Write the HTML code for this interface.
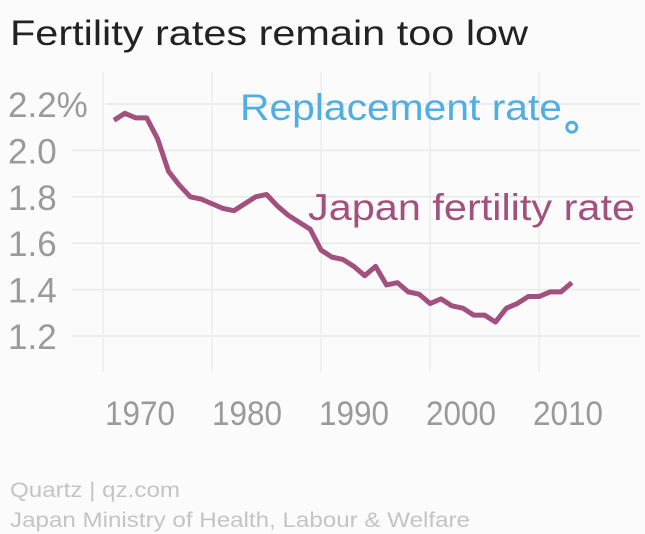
<!DOCTYPE html>
<html><head><meta charset="utf-8"><style>
body{margin:0;background:#fbfbfb;}
svg{display:block;font-family:"Liberation Sans",sans-serif;}
</style></head><body>
<svg id="c" width="645" height="534">
<text x="10" y="45" font-size="35" fill="#222" textLength="518" lengthAdjust="spacingAndGlyphs">Fertility rates remain too low</text>
<g id="grid"></g><g id="ticks"></g><g id="series"></g>
<text x="240" y="120" font-size="37" fill="#51aee0" textLength="322" lengthAdjust="spacingAndGlyphs">Replacement rate</text>
<text x="308" y="220" font-size="37" fill="#a2517f" textLength="327" lengthAdjust="spacingAndGlyphs">Japan fertility rate</text>
<text x="10" y="497" font-size="21" fill="#c4c4c4" textLength="170" lengthAdjust="spacingAndGlyphs">Quartz | qz.com</text>
<text x="10" y="527" font-size="21" fill="#c4c4c4" textLength="460" lengthAdjust="spacingAndGlyphs">Japan Ministry of Health, Labour &amp; Welfare</text>
</svg>
<script>
const years=[1971,1972,1973,1974,1975,1976,1977,1978,1979,1980,1981,1982,1983,1984,1985,1986,1987,1988,1989,1990,1991,1992,1993,1994,1995,1996,1997,1998,1999,2000,2001,2002,2003,2004,2005,2006,2007,2008,2009,2010,2011,2012,2013];
const rates=[2.13,2.16,2.14,2.14,2.05,1.91,1.85,1.80,1.79,1.77,1.75,1.74,1.77,1.80,1.81,1.76,1.72,1.69,1.66,1.57,1.54,1.53,1.50,1.46,1.50,1.42,1.43,1.39,1.38,1.34,1.36,1.33,1.32,1.29,1.29,1.26,1.32,1.34,1.37,1.37,1.39,1.39,1.43];
const replacement=[{year:2013,value:2.1}];
const yTicks=[2.2,2.0,1.8,1.6,1.4,1.2];
const yTickLabels=["2.2%","2.0","1.8","1.6","1.4","1.2"];
const xTicks=[1970,1980,1990,2000,2010];
const X=y=>114+(y-1971)*10.9;
const Y=v=>104+(2.2-v)*232;
const NS="http://www.w3.org/2000/svg";
function mk(t,a,p){const e=document.createElementNS(NS,t);for(const k in a)e.setAttribute(k,a[k]);p.appendChild(e);return e;}
const grid=document.getElementById('grid'),ticks=document.getElementById('ticks'),series=document.getElementById('series');
yTicks.forEach((v,i)=>{
 const l=mk('line',{x1:i==0?105:72,x2:640,y1:Y(v),y2:Y(v),stroke:'#e8e8e8','stroke-width':1.5},grid);
 
 
 const t=mk('text',{x:8,y:Y(v)+13,'font-size':35,fill:'#9a9a9a'},ticks);t.textContent=yTickLabels[i];
 
 
});
xTicks.forEach(yr=>{
 const l=mk('line',{x1:X(yr),x2:X(yr),y1:72,y2:372,stroke:'#ececec','stroke-width':1.5},grid);
 
 
 const t=mk('text',{x:140+(yr-1970)*10.7,y:425,'font-size':34,fill:'#9a9a9a','text-anchor':'middle',textLength:70,lengthAdjust:'spacingAndGlyphs'},ticks);t.textContent=yr;
 
 
});
const p=mk('polyline',{points:years.map((y,i)=>X(y)+','+Y(rates[i])).join(' '),fill:'none',stroke:'#a2517f','stroke-width':5,'stroke-linejoin':'round'},series);


replacement.forEach(d=>{
 const c=mk('circle',{cx:X(d.year),cy:Y(d.value),r:5,fill:'#fff',stroke:'#51aee0','stroke-width':3},series);
 
 
});
</script>
</body></html>
